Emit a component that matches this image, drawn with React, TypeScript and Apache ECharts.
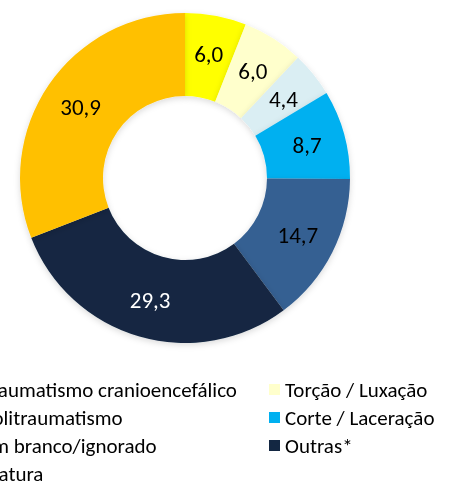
import React, { useEffect, useRef } from "react";
import * as echarts from "echarts";

const categories = [
  "Traumatismo cranioencefálico",
  "Torção / Luxação",
  "Politraumatismo",
  "Corte / Laceração",
  "Em branco/ignorado",
  "Outras*",
  "Fratura",
];
const values = [6.0, 6.0, 4.4, 8.7, 14.7, 29.3, 30.9];
const colors = ["#FFFF00", "#FFFFCC", "#DAEEF3", "#00B0F0", "#366092", "#132742", "#FFC000"];
const labelColors = ["#000", "#000", "#000", "#000", "#000", "#fff", "#000"];
const leftLegend = ["Traumatismo cranioencefálico", "Politraumatismo", "Em branco/ignorado", "Fratura"];
const rightLegend = ["Torção / Luxação", "Corte / Laceração", "Outras*"];

const FONT = "Carlito, Calibri, Lato, sans-serif";

export default function App() {
  const ref = useRef<HTMLDivElement>(null);
  useEffect(() => {
    const chart = echarts.init(ref.current!, null, { renderer: "svg" });
    const legendCommon = {
      orient: "vertical" as const,
      icon: "rect",
      itemWidth: 11,
      itemHeight: 11,
      itemGap: 7,
      padding: 0,
      top: 379,
      height: 110,
      textStyle: { fontFamily: FONT, fontSize: 21, color: "#000", lineHeight: 21 },
    };
    chart.setOption({
      animation: false,
      color: colors,
      legend: [
        { ...legendCommon, left: -34, data: leftLegend },
        { ...legendCommon, left: 269, data: rightLegend },
      ],
      series: [
        {
          type: "pie",
          center: [185, 178],
          radius: [82, 165],
          startAngle: 90,
          clockwise: true,
          avoidLabelOverlap: false,
          label: {
            show: true,
            position: "inside",
            fontFamily: FONT,
            fontSize: 23,
            formatter: (p: any) => p.value.toFixed(1).replace(".", ","),
          },
          labelLine: { show: false },
          emphasis: { disabled: true },
          itemStyle: { shadowBlur: 6, shadowColor: "rgba(0,0,0,0.15)", shadowOffsetY: 2 },
          data: categories.map((c, i) => ({
            name: c,
            value: values[i],
            label: { color: labelColors[i] },
          })),
        },
      ],
    });
    return () => chart.dispose();
  }, []);
  return (
    <div
      ref={ref}
      style={{ position: "fixed", left: 0, top: 0, width: 454, height: 485 }}
    />
  );
}
